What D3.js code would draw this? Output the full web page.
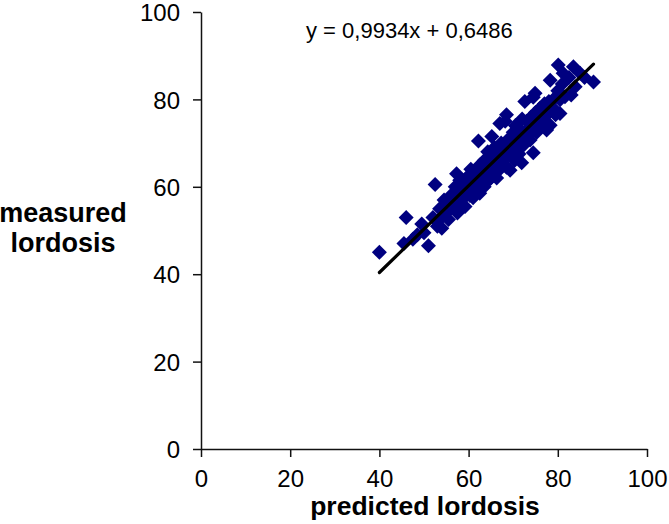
<!DOCTYPE html>
<html>
<head>
<meta charset="utf-8">
<script src="https://cdn.jsdelivr.net/npm/d3@7"></script>
<style>
  body { margin: 0; background: #fff; }
  svg text { font-family: "Liberation Sans", Arial, sans-serif; fill: #000; }
</style>
</head>
<body>
<div id="chart"></div>
<script>
// predicted vs measured lordosis
const predicted = [
  40, 45.5, 46, 47.5, 48.5, 49.5, 50, 51, 52, 52.5, 53, 53.5, 54, 54.5, 55, 55.5,
  56, 56.5, 57, 57.3, 57.5, 58, 58, 58.5, 59, 59.2, 59.5, 60, 60.3, 60.5, 61, 61,
  61.5, 62, 62.2, 62.5, 62.5, 63, 63.5, 63.5, 64, 64.3, 64.5, 64.8, 65, 65.2, 65.5,
  65.8, 66, 66.3, 66.5, 67, 67, 67.3, 67.5, 68, 68.2, 68.5, 68.5, 69, 69.3, 69.5,
  70, 70, 70.3, 70.5, 71, 71.3, 71.5, 71.9, 72, 72.3, 72.6, 73, 73.3, 73.8, 74,
  74.5, 74.5, 74.9, 75, 75.3, 75.6, 76, 76.5, 76.7, 77, 77.5, 78, 78.3, 78.3, 79,
  79.5, 80, 80.1, 80.5, 80.5, 81, 81.2, 81.6, 82.5, 83, 83.5, 83.9, 85, 86, 88,
  56, 57, 59, 60, 61.5, 62, 63, 64, 65, 66, 67, 68, 69, 70, 71, 72, 73, 74, 75,
  76, 77, 78, 79, 66.5, 63.5, 60.5, 58.5, 55, 53.5
];
const measured = [
  45, 47, 53, 48, 49, 51.5, 49.5, 46.5, 53, 60.5, 51, 55, 50.5, 57, 54, 52.5,
  58, 55.5, 60, 63, 54, 56, 61.5, 59, 57.5, 55.5, 62, 60, 58, 64, 61.5, 57.5,
  63, 60, 70.5, 65, 58.5, 62.5, 66, 60, 64, 68, 61.5, 63, 66.5, 71.5, 63.5,
  69, 65, 62, 67.5, 74.5, 64, 70, 66, 68.5, 75, 76.5, 64.5, 71, 63.8, 67,
  72.5, 69, 66, 74, 70, 67.5, 72, 65.5, 75.5, 69.5, 79.5, 73, 71, 70.7, 76,
  80.5, 67.8, 81.4, 74, 72.5, 73.8, 78, 75.5, 76, 79, 73, 77, 84.4, 74.1, 80,
  76.5, 82, 87.9, 79.9, 76.8, 83.5, 86, 80.6, 85, 81, 87.5, 82.9, 86, 85, 84,
  57, 58, 59.5, 62.5, 59, 64, 61, 66, 62, 68, 69, 66.5, 69.5, 70.5, 73.5, 71, 75, 72.5, 77,
  74, 76, 79.5, 78, 64, 63, 61, 57.5, 56, 52.5
];
const axisTicks = [0, 20, 40, 60, 80, 100];
const slope = 0.9934;
const intercept = 0.6486;
const fitRange = [40, 88];
const equationLabel = "y = 0,9934x + 0,6486";

const width = 669, height = 524;

const svg = d3.select('#chart').append('svg')
  .attr('width', width)
  .attr('height', height);

const x = d3.scaleLinear().domain([0, 100]).range([201, 647]);
const y = d3.scaleLinear().domain([0, 100]).range([449, 12]);

// axes
const xAxis = svg.append('g')
  .attr('transform', `translate(0,${y(0)})`)
  .call(d3.axisBottom(x).tickValues(axisTicks).tickSize(8).tickPadding(8).tickSizeOuter(0));
const yAxis = svg.append('g')
  .attr('transform', `translate(${x(0)},0)`)
  .call(d3.axisLeft(y).tickValues(axisTicks).tickSize(8).tickPadding(13).tickSizeOuter(0));

[xAxis, yAxis].forEach(g => {
  g.select('.domain').attr('stroke', '#111').attr('stroke-width', 1.5);
  g.selectAll('.tick line').attr('stroke', '#111').attr('stroke-width', 1.5);
  g.selectAll('.tick text')
    .style('font-family', '"Liberation Sans", Arial, sans-serif')
    .style('font-size', '24px')
    .attr('fill', '#000');
});
xAxis.selectAll('.tick text').attr('dy', '0.92em');
yAxis.selectAll('.tick text').attr('dy', '0.36em');

// points (diamonds)
const pts = predicted.map((p, i) => [p, measured[i]]);
const r = 7.5;
svg.append('g')
  .selectAll('path.point')
  .data(pts)
  .join('path')
  .classed('point', true)
  .attr('d', `M0,${-r}L${r},0L0,${r}L${-r},0Z`)
  .attr('transform', d => `translate(${x(d[0])},${y(d[1])})`)
  .attr('fill', '#000080');

// trend line
svg.append('line')
  .attr('x1', x(fitRange[0]))
  .attr('y1', y(slope * fitRange[0] + intercept))
  .attr('x2', x(fitRange[1]))
  .attr('y2', y(slope * fitRange[1] + intercept))
  .attr('stroke', '#000')
  .attr('stroke-width', 3.2)
  .attr('stroke-linecap', 'round');

// equation
svg.append('text')
  .attr('x', 306)
  .attr('y', 38)
  .style('font-size', '22px')
  .text(equationLabel);

// axis titles
svg.append('text')
  .attr('x', 425)
  .attr('y', 515)
  .attr('text-anchor', 'middle')
  .style('font-size', '26.5px')
  .style('font-weight', 'bold')
  .text('predicted lordosis');

const yTitle = svg.append('text')
  .attr('text-anchor', 'middle')
  .style('font-size', '27px')
  .style('font-weight', 'bold');
yTitle.append('tspan').attr('x', 63).attr('y', 222).text('measured');
yTitle.append('tspan').attr('x', 63).attr('y', 252).text('lordosis');
</script>
</body>
</html>
